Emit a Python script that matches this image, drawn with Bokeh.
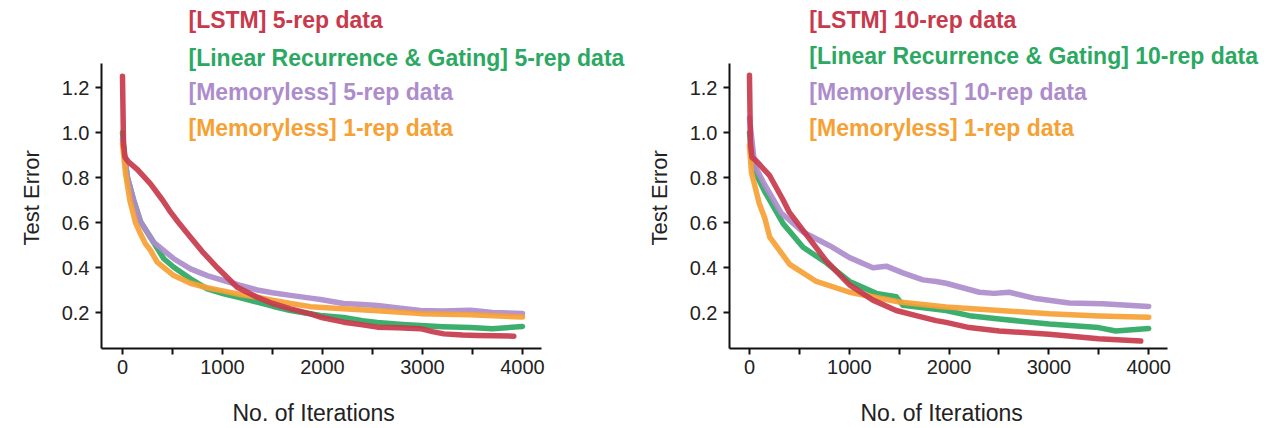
from bokeh.plotting import figure
from bokeh.layouts import row
from bokeh.models import Label, FixedTicker, PrintfTickFormatter, Range1d, Title, LinearAxis
from bokeh.embed import file_html
from bokeh.resources import INLINE

# ---------------- data ----------------
# Left panel: 5-rep data
lstm5_x = [0, 10, 25, 63, 150, 280, 400, 470, 560, 680, 800, 947, 1147, 1347, 1500, 1680, 1880, 1980,
           2213, 2400, 2547, 2750, 2980, 3100, 3213, 3400, 3547, 3913]
lstm5_y = [1.25, 0.95, 0.89, 0.868, 0.835, 0.772, 0.70, 0.653, 0.60, 0.535, 0.47, 0.40, 0.312, 0.268, 0.24,
           0.216, 0.194, 0.179, 0.157, 0.145, 0.135, 0.132, 0.128, 0.115, 0.105, 0.10, 0.098, 0.095]

lin5_x = [0, 20, 50, 113, 180, 313, 413, 513, 680, 847, 1013, 1180, 1347, 1500, 1680, 1980, 2210, 2400,
          2550, 2800, 2980, 3200, 3480, 3700, 4000]
lin5_y = [1.0, 0.9, 0.8, 0.698, 0.604, 0.51, 0.439, 0.401, 0.35, 0.305, 0.283, 0.265, 0.246, 0.228, 0.209,
          0.187, 0.178, 0.163, 0.156, 0.147, 0.142, 0.137, 0.133, 0.128, 0.138]

mem5_x = [0, 20, 50, 113, 180, 313, 513, 680, 847, 1013, 1180, 1347, 1500, 1680, 1880, 1980, 2210, 2400,
          2550, 2800, 2980, 3200, 3480, 3700, 4000]
mem5_y = [0.97, 0.9, 0.8, 0.698, 0.604, 0.512, 0.439, 0.394, 0.364, 0.342, 0.32, 0.30, 0.288, 0.276, 0.264,
          0.258, 0.24, 0.236, 0.231, 0.218, 0.209, 0.207, 0.21, 0.20, 0.196]

mem1_x = [0, 30, 73, 130, 180, 230, 280, 347, 513, 680, 847, 1013, 1180, 1347, 1500, 1680, 1880, 2210,
          2550, 2980, 3480, 4000]
mem1_y = [0.95, 0.82, 0.70, 0.60, 0.55, 0.505, 0.476, 0.424, 0.364, 0.33, 0.31, 0.295, 0.28, 0.268, 0.255,
          0.24, 0.226, 0.217, 0.208, 0.195, 0.19, 0.18]

# Right panel: 10-rep data
lstm10_x = [0, 10, 25, 63, 203, 337, 400, 537, 770, 1003, 1237, 1470, 1670, 1870, 1970, 2203, 2503, 3003,
            3497, 3920]
lstm10_y = [1.255, 0.95, 0.89, 0.876, 0.808, 0.70, 0.645, 0.565, 0.429, 0.323, 0.255, 0.209, 0.186, 0.164,
            0.156, 0.133, 0.118, 0.103, 0.083, 0.073]

lin10_x = [0, 30, 60, 150, 220, 337, 537, 770, 1003, 1270, 1470, 1537, 1970, 2203, 2503, 3003, 3497, 3670,
           4000]
lin10_y = [1.0, 0.87, 0.82, 0.74, 0.686, 0.595, 0.49, 0.421, 0.338, 0.285, 0.27, 0.232, 0.209, 0.186, 0.171,
           0.149, 0.133, 0.118, 0.129]

mem10_x = [0, 53, 150, 320, 537, 803, 1003, 1237, 1370, 1537, 1737, 1870, 1970, 2303, 2450, 2603, 2870,
           3203, 3537, 4000]
mem10_y = [1.065, 0.853, 0.77, 0.641, 0.558, 0.497, 0.444, 0.399, 0.406, 0.376, 0.345, 0.338, 0.33, 0.29,
           0.285, 0.29, 0.262, 0.242, 0.239, 0.227]

mem1b_x = [0, 20, 97, 153, 203, 403, 670, 1003, 1503, 1970, 2503, 3003, 3500, 4000]
mem1b_y = [0.944, 0.823, 0.686, 0.62, 0.535, 0.414, 0.338, 0.29, 0.247, 0.224, 0.209, 0.194, 0.185, 0.179]

x_ticks = [0, 1000, 2000, 3000, 4000]
x_minor = [500, 1500, 2500, 3500]
y_ticks = [0.2, 0.4, 0.6, 0.8, 1.0, 1.2]

left_labels = ["[LSTM] 5-rep data", "[Linear Recurrence & Gating] 5-rep data",
               "[Memoryless] 5-rep data", "[Memoryless] 1-rep data"]
right_labels = ["[LSTM] 10-rep data", "[Linear Recurrence & Gating] 10-rep data",
                "[Memoryless] 10-rep data", "[Memoryless] 1-rep data"]

RED = "#c8394c"
GREEN = "#2ba862"
PURPLE = "#ad8ccc"
ORANGE = "#f6a134"
FONT = "Liberation Sans"


def make_panel(series, labels, width, border_left, border_right, x_start, x_end, label_x, label_ys):
    p = figure(width=width, height=428, output_backend="svg", toolbar_location=None,
               x_range=Range1d(x_start, x_end), y_range=Range1d(0.04, 1.569),
               min_border_left=border_left, min_border_right=border_right,
               min_border_top=4, min_border_bottom=80)
    p.outline_line_color = None
    p.grid.visible = False
    p.background_fill_color = "white"
    p.border_fill_color = "white"

    for (xs, ys, c) in series:
        p.line(xs, ys, line_color=c, line_width=5.5, line_alpha=0.92, line_join="round", line_cap="round")

    for ax in (p.xaxis[0], p.yaxis[0]):
        ax.axis_line_width = 2
        ax.axis_line_color = "#111111"
        ax.major_tick_line_width = 2
        ax.major_tick_line_color = "#111111"
        ax.major_tick_out = 6
        ax.major_tick_in = 0
        ax.minor_tick_line_width = 2
        ax.minor_tick_line_color = "#111111"
        ax.minor_tick_out = 6
        ax.minor_tick_in = 0
        ax.major_label_text_font = FONT
        ax.major_label_text_font_size = "20px"
        ax.major_label_text_color = "#222222"

    p.xaxis.bounds = (x_start, 4190)
    p.yaxis.bounds = (0.04, 1.307)
    p.xaxis.ticker = FixedTicker(ticks=x_ticks, minor_ticks=x_minor)
    p.yaxis.ticker = FixedTicker(ticks=y_ticks, minor_ticks=[])
    p.yaxis.formatter = PrintfTickFormatter(format="%.1f")
    p.xaxis.major_label_standoff = 5
    p.yaxis.major_label_standoff = 6

    # blank spacer axis between the tick labels and the x title (one white tick, no line, no label)
    spacer = LinearAxis(ticker=FixedTicker(ticks=[4700], minor_ticks=[]), axis_line_color=None,
                        major_tick_line_color="white", minor_tick_line_color=None,
                        major_tick_out=22, minor_tick_out=0, major_tick_in=0, minor_tick_in=0,
                        major_label_text_color=None, major_label_standoff=0,
                        major_label_overrides={4700: ""})
    p.add_layout(spacer, "below")

    p.add_layout(Title(text="No. of Iterations", align="left", offset=131, standoff=2,
                       vertical_align="top",
                       text_font=FONT, text_font_size="23px", text_font_style="normal",
                       text_color="#222222"), "below")
    p.add_layout(Title(text="Test Error", align="left", offset=103, standoff=30,
                       text_font=FONT, text_font_size="22px", text_font_style="normal",
                       text_color="#222222"), "left")

    for txt, c, yy in zip(labels, [RED, GREEN, PURPLE, ORANGE], label_ys):
        p.add_layout(Label(x=label_x, y=yy, text=txt, text_color=c, text_font=FONT,
                           text_font_size="23px", text_font_style="bold",
                           text_baseline="middle", text_align="left"))
    return p


left = make_panel([(lin5_x, lin5_y, GREEN), (mem5_x, mem5_y, PURPLE),
                   (mem1_x, mem1_y, ORANGE), (lstm5_x, lstm5_y, RED)],
                  left_labels, 629, 101, 0, -210, 5070, 660, [1.498, 1.333, 1.178, 1.018])
right = make_panel([(lin10_x, lin10_y, GREEN), (mem10_x, mem10_y, PURPLE),
                    (mem1b_x, mem1b_y, ORANGE), (lstm10_x, lstm10_y, RED)],
                   right_labels, 639, 99, 3, -200, 5170, 600, [1.502, 1.338, 1.178, 1.018])

layout = row(left, right)
open("out.html", "w").write(file_html(layout, INLINE))
